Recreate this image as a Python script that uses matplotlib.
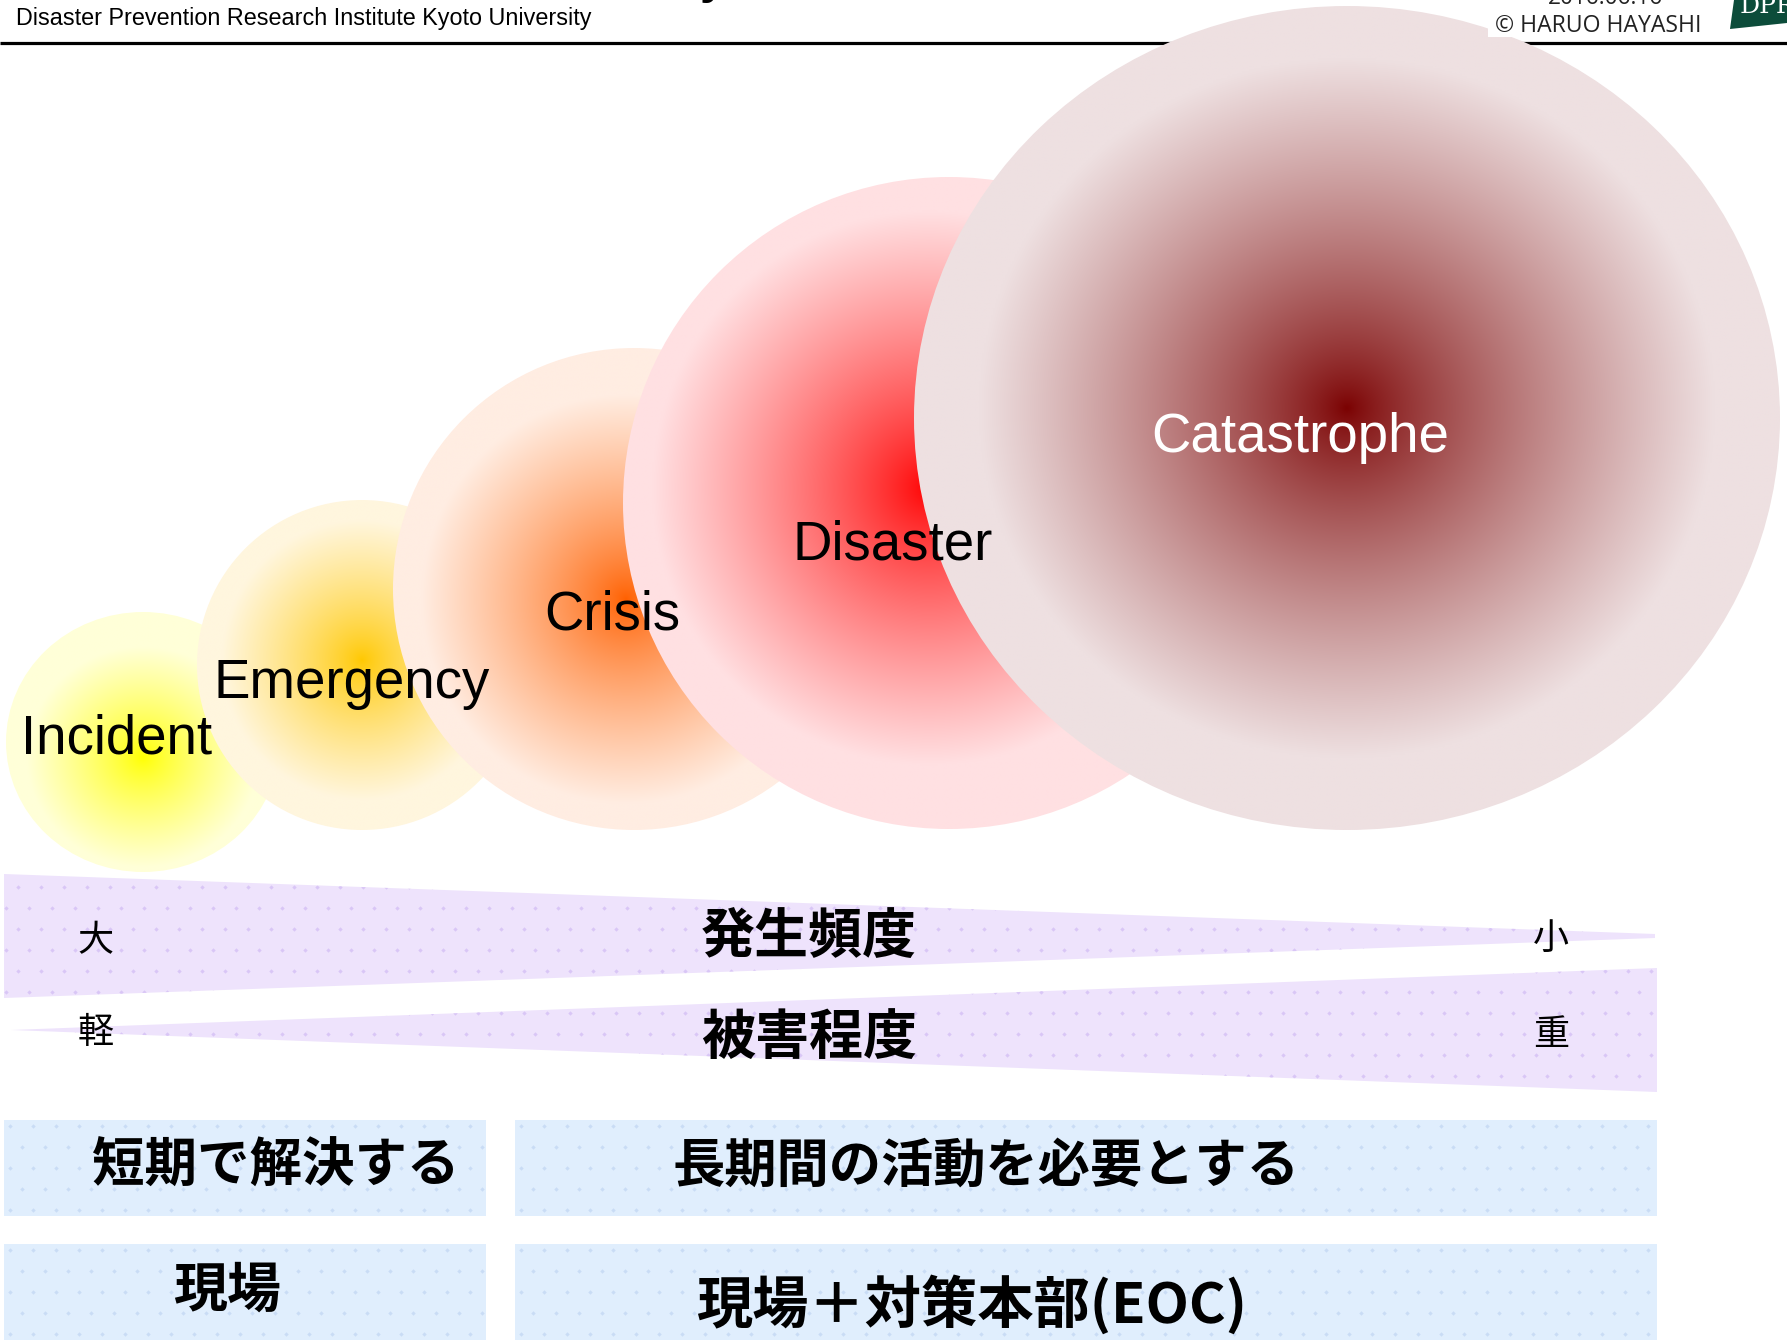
import numpy as np
import matplotlib
matplotlib.use('Agg')
import matplotlib.pyplot as plt
from matplotlib.patches import Ellipse, Polygon, Rectangle
from matplotlib.colors import to_rgb

# ---------------- data ----------------
stages = ['Incident', 'Emergency', 'Crisis', 'Disaster', 'Catastrophe']
stage_center_colors = ['#FFFF00', '#FFC800', '#FF6000', '#FF0000', '#7A0000']
stage_edge_colors = ['#FFFFD8', '#FFF6DE', '#FFEDE2', '#FFE0E2', '#EEE0E1']
stage_text_colors = ['black', 'black', 'black', 'black', 'white']

scale_titles = ['発生頻度', '被害程度']
scale_left = ['大', '軽']
scale_right = ['小', '重']

phase_labels = ['短期で解決する', '長期間の活動を必要とする']
place_labels = ['現場', '現場＋対策本部(EOC)']

header_left = 'Disaster Prevention Research Institute Kyoto University'
header_date = '2016.06.16'
header_author = '© HARUO HAYASHI'

# ---------------- layout (pixels) ----------------
W, H = 1787, 1340
ell_cx = [143, 362, 634, 949, 1347]
ell_cy = [742, 665, 589, 503, 418]
ell_rx = [137, 165, 241, 326, 433]
ell_ry = [130, 165, 241, 326, 412]
grad_dx = [0, 0, -8, -20, 0]
grad_dy = [15, -5, 10, -15, -10]
label_x = [117, 352, 612, 893, 1300]
label_base = [753, 698, 629, 560, 452]

JP = ['Noto Sans CJK JP', 'DejaVu Sans']
LAT = ['Liberation Sans', 'DejaVu Sans']

fig = plt.figure(figsize=(W / 100, H / 100), dpi=100)
ax = fig.add_axes([0, 0, 1, 1])
ax.set_xlim(0, W)
ax.set_ylim(H, 0)
ax.axis('off')
fig.patch.set_facecolor('white')
renderer = fig.canvas.get_renderer()


def fit(t, target_w):
    bb = t.get_window_extent(renderer)
    t.set_fontsize(t.get_fontsize() * target_w / bb.width)
    return t


# header line (behind circles)
ax.plot([0, W], [43, 43], color='black', lw=2.3, zorder=0.5, solid_capstyle='butt')

# ---------------- gradient ellipses ----------------
for i in range(len(stages)):
    cx, cy, rx, ry = ell_cx[i], ell_cy[i], ell_rx[i], ell_ry[i]
    n = 500
    xs = np.linspace(cx - rx, cx + rx, n)
    ys = np.linspace(cy - ry, cy + ry, n)
    X, Y = np.meshgrid(xs, ys)
    gx, gy = cx + grad_dx[i], cy + grad_dy[i]
    d = np.sqrt(((X - gx) / rx) ** 2 + ((Y - gy) / ry) ** 2)
    t = np.clip(d / 0.85, 0, 1) ** 0.8
    c0 = np.array(to_rgb(stage_center_colors[i]))
    c1 = np.array(to_rgb(stage_edge_colors[i]))
    img = c0[None, None, :] * (1 - t[..., None]) + c1[None, None, :] * t[..., None]
    e = Ellipse((cx, cy), 2 * rx, 2 * ry, facecolor='none', edgecolor='none', zorder=1 + i)
    ax.add_patch(e)
    im = ax.imshow(img, extent=(cx - rx, cx + rx, cy + ry, cy - ry), origin='upper',
                   interpolation='bilinear', zorder=1 + i, aspect='auto')
    im.set_clip_path(e)

ax.set_xlim(0, W)
ax.set_ylim(H, 0)

for i, s in enumerate(stages):
    ax.text(label_x[i], label_base[i], s, ha='center', va='baseline', fontsize=39.3,
            family=LAT, color=stage_text_colors[i], zorder=20)

# ---------------- header ----------------
t = ax.text(16, 25, header_left, ha='left', va='baseline', fontsize=15,
            family=['Liberation Sans Narrow', 'Liberation Sans', 'DejaVu Sans'], color='black', zorder=30)
fit(t, 577)
ax.text(713, -7, 'y', ha='center', va='baseline', fontsize=34, fontweight='bold',
        family=LAT, color='black', zorder=30)
ax.add_patch(Rectangle((1488, 0), 226, 37, facecolor='white', edgecolor='none', zorder=25))
t = ax.text(1495, 32, header_author, ha='left', va='baseline', fontsize=15,
            family=['Open Sans', 'DejaVu Sans'], color='#222222', zorder=30)
fit(t, 207)
t = ax.text(1548, 4, header_date, ha='left', va='baseline', fontsize=15,
            family=['Open Sans', 'DejaVu Sans'], color='#222222', zorder=30)
fit(t, 115)
logo = Polygon([(1734, 0), (W, 0), (W, 23), (1730, 29)], closed=True,
               facecolor='#0C4C3A', edgecolor='none', zorder=30)
ax.add_patch(logo)
t = ax.text(1740, 13, 'DPRI', ha='left', va='baseline', fontsize=18,
            family=['DejaVu Serif'], color='white', zorder=31)
t.set_clip_path(logo)

# ---------------- bands ----------------
def dotted(patch, dot_color, x0, x1, y0, y1, dx=23, dy=21):
    pts = []
    for k, yy in enumerate(np.arange(y0 + 6, y1, dy)):
        off = 0 if k % 2 == 0 else dx / 2
        for xx in np.arange(x0 + 6 + off, x1, dx):
            pts.append((xx, yy))
    pts = np.array(pts)
    sc = ax.scatter(pts[:, 0], pts[:, 1], s=5, marker='D', color=dot_color,
                    linewidths=0, zorder=patch.get_zorder() + 0.1)
    sc.set_clip_path(patch)


lav = '#EEE3FC'
lav_dot = '#D9C6F6'
band1 = Polygon([(4, 874), (1655, 934), (1655, 938), (4, 998)], closed=True,
                facecolor=lav, edgecolor='none', zorder=10)
band2 = Polygon([(11, 1030), (1657, 968), (1657, 1092)], closed=True,
                facecolor=lav, edgecolor='none', zorder=10)
for b in (band1, band2):
    ax.add_patch(b)
    dotted(b, lav_dot, 0, 1660, 860, 1100)

band_y = [937, 1038]
for i in range(2):
    t = ax.text(809, band_y[i], scale_titles[i], ha='center', va='center', fontsize=39,
                family=JP, fontweight='bold', color='black', zorder=20)
    fit(t, 216)
    ax.text(96, band_y[i] + (4 if i == 0 else -5), scale_left[i], ha='center', va='center',
            fontsize=26, family=JP, color='black', zorder=20)
    ax.text(1551, band_y[i] + (2 if i == 0 else -3), scale_right[i], ha='center', va='center',
            fontsize=26, family=JP, color='black', zorder=20)

# ---------------- boxes ----------------
blue = '#E0EEFD'
blue_dot = '#C9DCF5'
box_x = [4, 515]
box_w = [482, 1142]
row_y = [1120, 1244]
row_h = [96, 100]
for r in range(2):
    for c in range(2):
        rect = Rectangle((box_x[c], row_y[r]), box_w[c], row_h[r], facecolor=blue,
                         edgecolor='none', zorder=10)
        ax.add_patch(rect)
        dotted(rect, blue_dot, box_x[c], box_x[c] + box_w[c], row_y[r], row_y[r] + row_h[r])

phase_cx = [276, 986]
phase_w = [367, 627]
for i in range(2):
    t = ax.text(phase_cx[i], 1166, phase_labels[i], ha='center', va='center', fontsize=38,
                family=JP, fontweight='bold', color='black', zorder=20)
    fit(t, phase_w[i])

place_cx = [227, 972]
place_cy = [1291, 1305]
place_w = [108, 551]
for i in range(2):
    t = ax.text(place_cx[i], place_cy[i], place_labels[i], ha='center', va='center', fontsize=38,
                family=JP, fontweight='bold', color='black', zorder=20)
    fit(t, place_w[i])

fig.savefig('out.png', dpi=100, facecolor='white')
